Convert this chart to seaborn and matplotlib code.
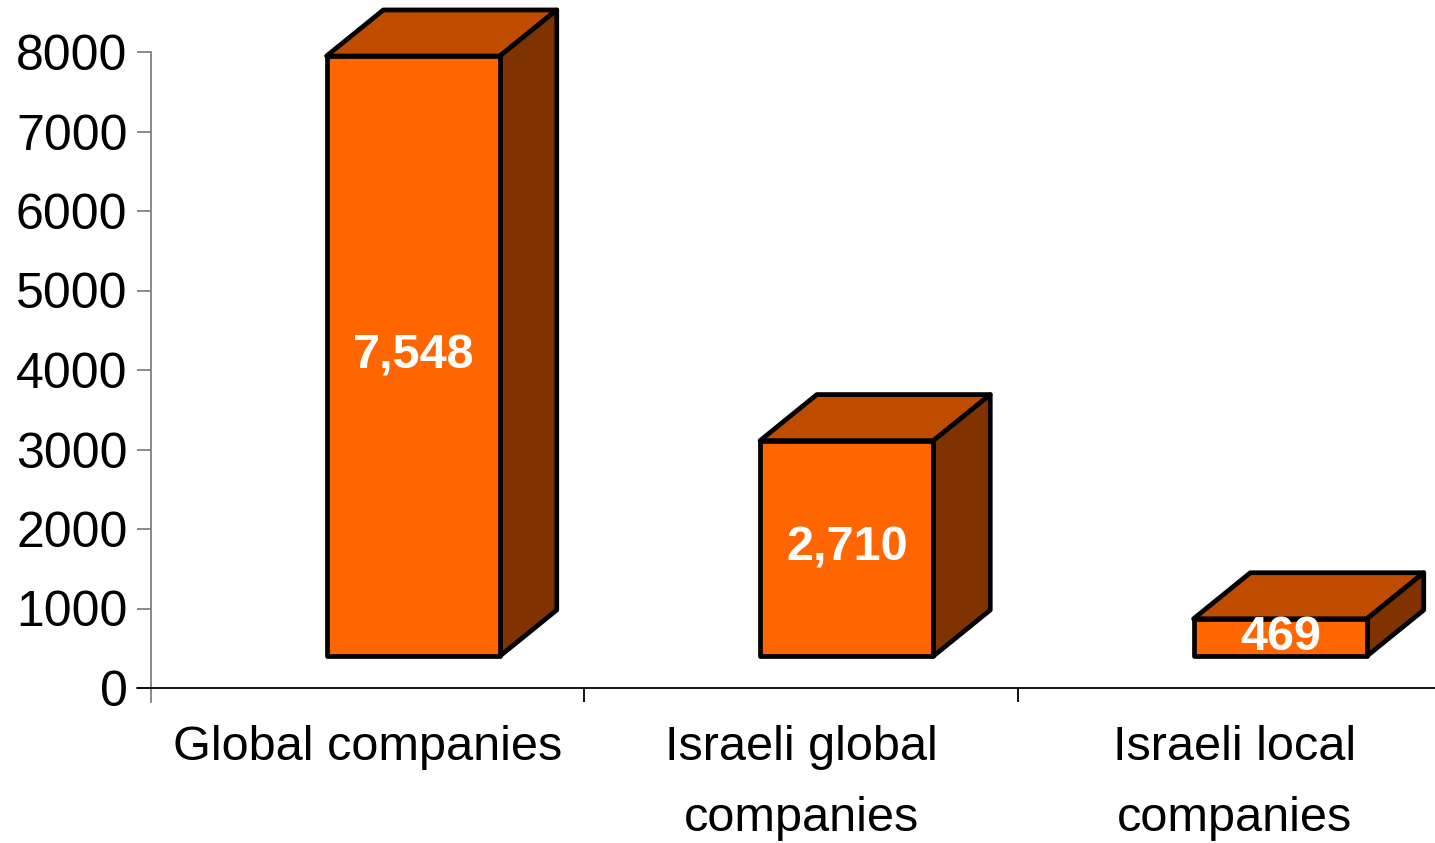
import matplotlib
matplotlib.use("Agg")
import matplotlib.pyplot as plt
from matplotlib.patches import Polygon
from matplotlib.lines import Line2D
import seaborn as sns

categories = ["Global companies", "Israeli global\ncompanies", "Israeli local\ncompanies"]
values = [7548, 2710, 469]
value_labels = ["7,548", "2,710", "469"]
yticks = [0, 1000, 2000, 3000, 4000, 5000, 6000, 7000, 8000]

FRONT = "#FF6600"
TOP = "#C04C00"
SIDE = "#803300"
LW = 3.4

sns.set_theme(style="white")
plt.rcParams["font.family"] = ["Liberation Sans", "DejaVu Sans"]

W, H = 1435, 843
fig = plt.figure(figsize=(W / 100, H / 100), dpi=100)
ax_left, ax_right_px = 151, 151 + 3 * 433.5
ax_bottom, ax_top = 688, 52
ax = fig.add_axes([ax_left / W, (H - ax_bottom) / H, (ax_right_px - ax_left) / W, (ax_bottom - ax_top) / H])

sns.barplot(x=categories, y=values, ax=ax, color=FRONT, edgecolor="black",
            linewidth=LW, width=0.4, saturation=1, zorder=3)
ax.set_xlim(-0.5, 2.5)
ax.set_ylim(0, 8000)

# 3D projection constants (front-face shift and depth)
shift_x, base_y = 0.105, 402
dx, dy = 0.131, 579

for p, lab in zip(ax.patches, value_labels):
    x0 = p.get_x() + shift_x
    w = p.get_width()
    h = p.get_height()
    p.set_x(x0)
    p.set_y(base_y)
    p.set_clip_on(False)
    p.set_linewidth(LW)
    p.set_joinstyle("round")
    top = Polygon([(x0, base_y + h), (x0 + w, base_y + h), (x0 + w + dx, base_y + h + dy),
                   (x0 + dx, base_y + h + dy)], closed=True, facecolor=TOP, edgecolor="black",
                  linewidth=LW, zorder=2, clip_on=False, joinstyle="round")
    side = Polygon([(x0 + w, base_y), (x0 + w + dx, base_y + dy), (x0 + w + dx, base_y + h + dy),
                    (x0 + w, base_y + h)], closed=True, facecolor=SIDE, edgecolor="black",
                   linewidth=LW, zorder=2, clip_on=False, joinstyle="round")
    ax.add_patch(top)
    ax.add_patch(side)
    ax.text(x0 + w / 2, base_y + h / 2, lab, ha="center", va="center", color="white",
            fontsize=35, fontweight="bold", zorder=5)

# Axes styling
for s in ["top", "right"]:
    ax.spines[s].set_visible(False)
ax.spines["left"].set_color("#808080")
ax.spines["left"].set_linewidth(1.3)
ax.spines["left"].set_bounds(-176, 8000)
ax.spines["bottom"].set_color("black")
ax.spines["bottom"].set_linewidth(1.3)
ax.add_line(Line2D([-14 / 1300.5, 0], [0, 0], transform=ax.transAxes, color="black",
                   linewidth=1.3, clip_on=False))

ax.set_yticks(yticks)
ax.set_yticklabels([str(v) for v in yticks])
ax.tick_params(axis="y", which="major", left=True, length=10, width=1.3, color="#808080",
               pad=7, labelsize=36, labelcolor="black")
ax.set_xticks([0, 1, 2])
ax.set_xticklabels(categories)
ax.tick_params(axis="x", which="major", bottom=False, length=0, pad=27, labelsize=35, labelcolor="black")
ax.set_xticks([0.5, 1.5], minor=True)
ax.tick_params(axis="x", which="minor", bottom=True, length=10, width=1.3, color="black")
for t in ax.get_xticklabels():
    t.set_linespacing(1.72)
ax.set_xlabel("")
ax.set_ylabel("")
ax.grid(False)

fig.savefig("out.png", dpi=100)
